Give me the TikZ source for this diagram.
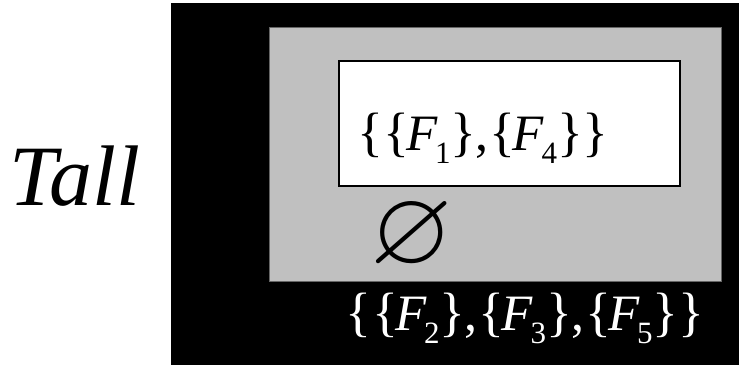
\documentclass[tikz,border=0pt]{standalone}
\usepackage{amssymb}
\usepackage{fontspec}
\setmainfont{Liberation Serif}
\newcommand\Lb{{\fontsize{54}{54}\selectfont\{}}
\newcommand\Rb{{\fontsize{54}{54}\selectfont\}}}
\newcommand\Fn[1]{{\fontsize{51}{51}\selectfont\itshape F}\kern-2pt\raisebox{-13pt}{\fontsize{31}{31}\selectfont #1}}
\newcommand\Cm{{\fontsize{52}{52}\selectfont,}}
\newcommand\Grp[1]{\Lb\kern-3pt\Fn{#1}\Rb}
\definecolor{boxgray}{HTML}{C0C0C0}
\tikzset{
  settext/.style={anchor=base west, inner sep=0pt},
}
\begin{document}
\begin{tikzpicture}[x=1pt,y=1pt]
\useasboundingbox (0,0) rectangle (739,365);
\fill[white] (0,0) rectangle (739,365);
\fill[black] (171,0) rectangle (739,362);
\filldraw[fill=boxgray, draw=gray!80!black, line width=0.8pt] (269,84) rectangle (721,338);
\filldraw[fill=white, draw=black, line width=2pt] (339,179) rectangle (680,304);
\node[anchor=base west, inner sep=0pt] (tall) at (9,160) {\fontsize{86}{86}\selectfont\itshape Tall};
\node[settext] (top) at (357,215) {\Lb\kern0pt\Grp{1}\kern-1pt\Cm\kern1pt\Grp{4}\kern-1pt\Rb};
\node[inner sep=0pt] (empty) at (412,128) {\fontsize{106}{106}\selectfont$\varnothing$};
\node[settext, text=white] (bottom) at (345,35) {\Lb\kern1pt\Grp{2}\kern-1pt\Cm\kern1pt\Grp{3}\kern-1pt\Cm\kern1pt\Grp{5}\Rb};
\end{tikzpicture}
\end{document}
